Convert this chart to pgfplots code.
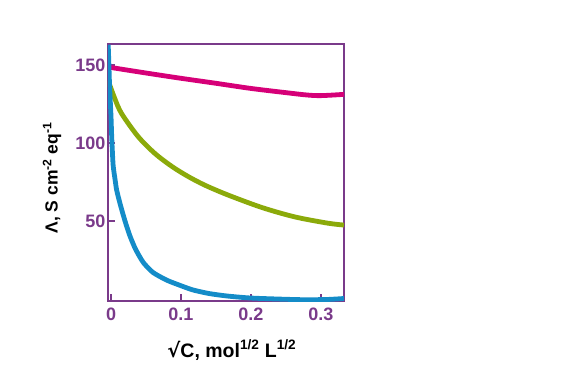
\documentclass[border=0pt]{standalone}
\usepackage{pgfplots}
\pgfplotsset{compat=1.18}
\usepackage{fontspec}
\setmainfont{Liberation Sans}
\newfontfamily\symfont{DejaVu Sans}
\definecolor{axpurple}{RGB}{122,58,138}
\definecolor{cmag}{RGB}{214,0,120}
\definecolor{cgreen}{RGB}{139,170,10}
\definecolor{cblue}{RGB}{20,140,200}
\begin{document}
\begin{tikzpicture}[x=1pt,y=1pt]
\path[use as bounding box] (0,0) rectangle (563,365);
\begin{axis}[
  at={(108pt,64pt)}, anchor=south west,
  scale only axis, width=236pt, height=257pt,
  xmin=-0.0043, xmax=0.333, ymin=-1.3, ymax=163.5,
  axis line style={draw=axpurple, line width=2.6pt},
  xtick={0,0.1,0.2,0.3}, xticklabels={0,0.1,0.2,0.3},
  ytick={50,100,150}, yticklabels={50,100,150},
  xtick pos=bottom, ytick pos=left, tick align=inside,
  major tick length=7pt,
  tick style={draw=axpurple, line width=2.6pt},
  every tick label/.append style={font=\fontsize{18}{20}\selectfont\bfseries, text=axpurple},
  xticklabel style={yshift=-3pt},
  yticklabel style={xshift=1pt},
  xlabel={{\symfont\bfseries √}C, mol\textsuperscript{1/2} L\textsuperscript{1/2}},
  ylabel={Λ, S cm\textsuperscript{-2} eq\textsuperscript{-1}},
  every axis x label/.style={at={(axis description cs:0.525,-0.19)}, anchor=center, font=\fontsize{19.5}{22}\selectfont\bfseries, text=black},
  every axis y label/.style={at={(axis description cs:-0.237,0.479)}, anchor=center, rotate=90, font=\fontsize{17.5}{22}\selectfont\bfseries, text=black},
]
\addplot[cmag, line width=4.8pt, smooth] coordinates {
(-0.004,148.7) (0.05,144.9) (0.1,141.5) (0.15,138.3) (0.2,135) (0.25,132.3) (0.28,130.8) (0.3,130.4) (0.333,131.2)};
\addplot[cgreen, line width=4.8pt, smooth, tension=0.5] coordinates {
(-0.004,140) (0.005,129) (0.015,119) (0.039,104) (0.063,93.2) (0.087,85) (0.11,78.6) (0.134,73) (0.167,66.7) (0.216,58.6) (0.263,52.6) (0.31,48.6) (0.333,47.4)};
\addplot[cblue, line width=4.8pt, smooth, tension=0.4] coordinates {
(-0.004,163) (-0.003,150) (-0.002,136) (0.000,117) (0.001,104) (0.003,86) (0.006,76) (0.008,70) (0.013,61) (0.02,50) (0.027,40.5) (0.035,32) (0.046,23.5) (0.06,17) (0.08,12) (0.1,8.5) (0.117,5.8) (0.14,3.5) (0.166,1.9) (0.2,0.6) (0.25,-0.2) (0.28,-0.5) (0.31,-0.3) (0.333,0.3)};
\end{axis}
\end{tikzpicture}
\end{document}
